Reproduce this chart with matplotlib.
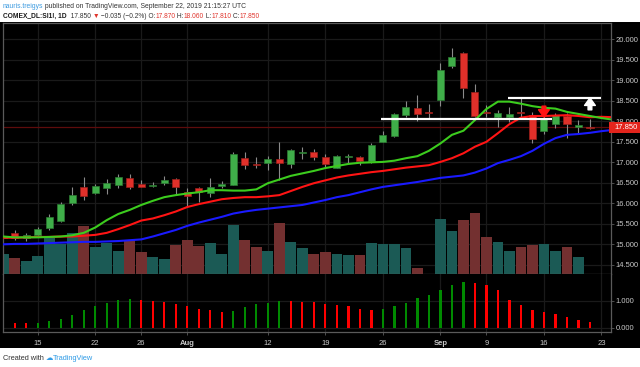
import numpy as np
import pandas as pd
import matplotlib
matplotlib.use("Agg")
import matplotlib.pyplot as plt
import matplotlib.transforms as mtransforms
from matplotlib.patches import Rectangle
from matplotlib.ticker import FormatStrFormatter

plt.rcParams['font.family'] = ['Liberation Sans Narrow', 'Liberation Sans', 'DejaVu Sans']

# ---- values: COMEX silver, daily bars 10 Jul - 20 Sep 2019 ----
opens = [15.15, 15.27, 15.15, 15.23, 15.40, 15.58, 16.01, 16.39, 16.26, 16.37,
         16.44, 16.62, 16.47, 16.42, 16.50, 16.59, 16.28, 16.37, 16.26, 16.42,
         16.45, 17.10, 16.96, 16.98, 17.07, 16.95, 17.22, 17.26, 17.14, 16.87,
         17.14, 17.12, 17.03, 17.50, 17.64, 18.15, 18.32, 18.22, 18.52, 19.36,
         19.66, 18.72, 18.23, 18.10, 18.10, 18.23, 18.15, 17.76, 17.93, 18.13,
         17.87, 17.87]
highs = [15.25, 15.35, 15.27, 15.43, 15.73, 16.04, 16.39, 16.63, 16.46, 16.59,
         16.71, 16.71, 16.57, 16.52, 16.67, 16.62, 16.37, 16.39, 16.61, 16.54,
         17.26, 17.24, 17.14, 17.16, 17.50, 17.32, 17.38, 17.32, 17.20, 17.18,
         17.20, 17.15, 17.48, 17.76, 18.20, 18.49, 18.64, 18.42, 19.43, 19.78,
         19.70, 18.91, 18.40, 18.28, 18.36, 18.56, 18.23, 18.13, 18.20, 18.20,
         18.03, 18.06]
lows = [15.12, 15.10, 15.09, 15.17, 15.35, 15.55, 15.96, 16.08, 16.22, 16.22,
        16.38, 16.36, 16.39, 16.39, 16.44, 16.23, 15.93, 16.04, 16.15, 16.37,
        16.45, 16.83, 16.85, 16.82, 16.57, 16.87, 17.08, 17.06, 16.89, 16.85,
        16.98, 16.93, 16.98, 17.49, 17.62, 18.10, 18.01, 18.05, 18.37, 19.31,
        18.58, 18.10, 18.10, 17.87, 17.99, 18.10, 17.48, 17.69, 17.83, 17.60,
        17.69, 17.81]
closes = [15.21, 15.15, 15.23, 15.37, 15.67, 15.98, 16.20, 16.19, 16.42, 16.49,
          16.63, 16.41, 16.40, 16.44, 16.57, 16.40, 16.18, 16.28, 16.39, 16.47,
          17.20, 16.93, 16.93, 17.08, 16.99, 17.30, 17.24, 17.14, 16.95, 17.16,
          17.16, 17.04, 17.42, 17.67, 18.17, 18.34, 18.18, 18.20, 19.25, 19.56,
          18.82, 18.13, 18.20, 18.20, 18.18, 18.20, 17.58, 18.05, 18.15, 17.93,
          17.91, 17.85]
volume_k = [20, 16, 13, 18, 36, 30, 41, 48, 27, 31,
            23, 34, 22, 17, 15, 29, 34, 28, 31, 20,
            49, 34, 27, 23, 51, 32, 26, 20, 22, 20,
            19, 19, 31, 30, 30, 26, 6, 0, 55, 43,
            54, 61, 37, 32, 23, 27, 29, 30, 23, 27,
            17, 0]

# moving averages (drawn displaced forward, so they run past the last bar)
lips = [15.19, 15.17, 15.17, 15.17, 15.18, 15.19, 15.22, 15.28, 15.41, 15.59,
        15.74, 15.84, 15.96, 16.06, 16.15, 16.20, 16.24, 16.27, 16.32, 16.32,
        16.31, 16.31, 16.34, 16.49, 16.58, 16.67, 16.73, 16.79, 16.86, 16.91,
        16.96, 16.99, 17.00, 17.01, 17.04, 17.10, 17.15, 17.28, 17.46, 17.67,
        17.77, 18.03, 18.30, 18.48, 18.48, 18.43, 18.37, 18.33, 18.31, 18.23,
        18.18, 18.13, 18.08, 18.04]
teeth = [15.16, 15.16, 15.17, 15.18, 15.18, 15.19, 15.19, 15.21, 15.23, 15.28,
         15.37, 15.47, 15.58, 15.63, 15.71, 15.80, 15.91, 15.98, 16.04, 16.10,
         16.13, 16.15, 16.15, 16.17, 16.20, 16.30, 16.40, 16.49, 16.56, 16.63,
         16.68, 16.72, 16.76, 16.79, 16.83, 16.87, 16.90, 16.93, 17.01, 17.10,
         17.22, 17.38, 17.50, 17.71, 17.93, 18.09, 18.13, 18.13, 18.14, 18.15,
         18.13, 18.10, 18.11, 18.10]
jaw = [15.00, 15.01, 15.01, 15.02, 15.03, 15.04, 15.05, 15.06, 15.06, 15.07,
       15.08, 15.10, 15.12, 15.19, 15.27, 15.35, 15.45, 15.53, 15.60, 15.67,
       15.75, 15.80, 15.84, 15.87, 15.90, 15.93, 15.96, 16.02, 16.08, 16.15,
       16.20, 16.27, 16.34, 16.40, 16.44, 16.48, 16.52, 16.57, 16.62, 16.65,
       16.68, 16.75, 16.85, 16.98, 17.06, 17.15, 17.28, 17.45, 17.59, 17.67,
       17.69, 17.72, 17.76, 17.79]

# lower pane oscillator, bars 2..52
osc = [0.18, 0.16, 0.18, 0.25, 0.34, 0.47, 0.64, 0.82, 0.93, 1.04,
       1.05, 1.04, 0.99, 0.96, 0.89, 0.80, 0.71, 0.65, 0.59, 0.61,
       0.75, 0.86, 0.93, 0.99, 0.99, 0.96, 0.95, 0.89, 0.84, 0.80,
       0.71, 0.64, 0.71, 0.80, 0.93, 1.11, 1.23, 1.40, 1.60, 1.68,
       1.67, 1.60, 1.40, 1.04, 0.83, 0.67, 0.57, 0.52, 0.41, 0.27, 0.22]
osc_dir = "RRGGGGGGGGGRRRRRRRRGGGGGRRRRRRRRGGGGGGGGRRRRRRRRRRR"

# drawn levels (start bar, end bar, price) and signal arrows (bar, from, to)
levels = [(32.8, 47.7, 18.06), (43.85, 52.0, 18.58)]
sell_arrow = (47, 18.37, 18.10)
buy_arrow = (51, 18.28, 18.57)

tick_dates = ["2019-07-15", "2019-07-22", "2019-07-26", "2019-08-01", "2019-08-12",
              "2019-08-19", "2019-08-26", "2019-09-03", "2019-09-09", "2019-09-16",
              "2019-09-23"]
tick_labels = ["15", "22", "26", "Aug", "12", "19", "26", "Sep", "9", "16", "23"]
last_price = 17.85

# sessions (no bar on Labor Day)
sessions = pd.bdate_range("2019-07-10", "2019-09-23").drop(pd.Timestamp("2019-09-02"))
tick_pos = [sessions.get_loc(pd.Timestamp(d)) for d in tick_dates]

opens, highs, lows, closes = map(np.array, (opens, highs, lows, closes))
x = np.arange(len(closes))
up = closes >= opens

W, H = 640, 367
fig = plt.figure(figsize=(W / 100, H / 100), dpi=100)
fig.patch.set_facecolor("white")


def px_box(x0, y0, x1, y1):
    return [x0 / W, 1 - y1 / H, (x1 - x0) / W, (y1 - y0) / H]


fig.add_artist(Rectangle((0, 1 - 348 / H), 1, 326 / H, transform=fig.transFigure,
                         facecolor="black", edgecolor="none", zorder=0))

BORDER = "#5a5a5a"
GRID = "#1a1a1a"
LABEL = "#c8c8c8"

ax = fig.add_axes(px_box(3, 23, 611, 274), facecolor="black")
ax2 = fig.add_axes(px_box(3, 274, 611, 332), facecolor="black", sharex=ax)

xlim = (-0.02, 52.83)
ax.set_xlim(*xlim)
ax.set_ylim(14.276, 20.398)
ax2.set_ylim(-0.16, 1.99)

for a in (ax, ax2):
    a.set_axisbelow(True)
    a.grid(True, color=GRID, lw=0.9)
    for s in a.spines.values():
        s.set_color(BORDER)
        s.set_linewidth(0.9)
    a.yaxis.tick_right()
    a.tick_params(axis="y", colors=BORDER, labelcolor=LABEL, labelsize=5.5,
                  length=2, width=0.6, pad=1.5)
    a.set_xticks(tick_pos)
ax2.spines["top"].set_visible(False)
ax.tick_params(axis="x", length=0, labelbottom=False)
ax2.tick_params(axis="x", colors=BORDER, labelcolor=LABEL, labelsize=5.5,
                length=2, width=0.6, pad=4)
ax2.set_xticklabels(tick_labels)
for lbl, txt in zip(ax2.get_xticklabels(), tick_labels):
    if not txt.isdigit():
        lbl.set_fontweight("bold")

ax.set_yticks(np.arange(14.5, 20.01, 0.5))
ax.yaxis.set_major_formatter(FormatStrFormatter("%.3f"))
ax2.set_yticks([0, 1])
ax2.yaxis.set_major_formatter(FormatStrFormatter("%.3f"))

# volume overlay on the bottom of the price pane
vol = np.array(volume_k, dtype=float)
vol_frac = vol / (vol.max() * 4.1)
vol_trans = mtransforms.blended_transform_factory(ax.transData, ax.transAxes)
ax.bar(x, vol_frac, width=0.93, bottom=0, transform=vol_trans,
       color=np.where(up, "#1b5a55", "#733030"), edgecolor="none", zorder=1)

# last price line
ax.axhline(last_price, color="#5e0c0c", lw=0.9, zorder=1.5)

# candles
ax.vlines(x, lows, highs, color="#8a8a8a", lw=0.8, zorder=2)
body = np.where(np.abs(closes - opens) < 0.025, 0.025 * np.sign(closes - opens + 1e-9),
                closes - opens)
ax.bar(x, body, bottom=opens, width=0.62, zorder=3,
       color=np.where(up, "#3fae49", "#e0302a"),
       edgecolor=np.where(up, "#2c7a32", "#9c1f1a"), linewidth=0.5)

# moving averages
ax.plot(np.arange(len(jaw)), jaw, color="#1a1aff", lw=1.5, zorder=4)
ax.plot(np.arange(len(teeth)), teeth, color="#ff1414", lw=1.5, zorder=4)
ax.plot(np.arange(len(lips)), lips, color="#3ccc1e", lw=1.5, zorder=4)

# drawn levels and arrows
for x0, x1, lvl in levels:
    ax.plot([x0, x1], [lvl, lvl], color="white", lw=1.6, zorder=5, solid_capstyle="butt")
arrow_style = "simple,head_width=1.3,head_length=0.9,tail_width=0.45"
ax.annotate("", xy=(sell_arrow[0], sell_arrow[2]), xytext=(sell_arrow[0], sell_arrow[1]),
            arrowprops=dict(arrowstyle=arrow_style, color="#ff1414", shrinkA=0, shrinkB=0,
                            mutation_scale=6), zorder=6)
ax.annotate("", xy=(buy_arrow[0], buy_arrow[2]), xytext=(buy_arrow[0], buy_arrow[1]),
            arrowprops=dict(arrowstyle=arrow_style, color="white", shrinkA=0, shrinkB=0,
                            mutation_scale=6), zorder=6)

# price tag on the axis
tag_trans = mtransforms.blended_transform_factory(ax.transAxes, ax.transData)
ax.add_patch(Rectangle((0.9965, last_price - 0.14), 0.06, 0.28, transform=tag_trans,
                       facecolor="#e3241c", edgecolor="none", clip_on=False, zorder=10))
ax.text(1.006, last_price, f"{last_price:.3f}", transform=tag_trans, color="white",
        fontsize=5.5, va="center", ha="left", clip_on=False, zorder=11)

# oscillator pane
ax2.bar(x[1:], osc, width=0.2, color=["#008a00" if c == "G" else "#ff0000" for c in osc_dir],
        zorder=2)

# header and footer text
over = fig.add_axes([0, 0, 1, 1], facecolor="none")
over.axis("off")


def chain(parts, x0, y0, size):
    prev = None
    for text, color, weight in parts:
        if prev is None:
            prev = over.text(x0, y0, text, color=color, fontsize=size, fontweight=weight,
                             ha="left", va="bottom", transform=fig.transFigure)
        else:
            prev = over.annotate(text, xy=(1, 0), xycoords=prev, color=color,
                                 fontsize=size, fontweight=weight, ha="left", va="bottom")


RED = "#e0352d"
DARK = "#333333"
chain([("nauris.treigys", "#3d9be0", "normal"),
       (" published on TradingView.com, September 22, 2019 21:15:27 UTC", DARK, "normal")],
      3 / W, 1 - 10 / H, 4.9)
chain([("COMEX_DL:SI1!, 1D", "#1a1a1a", "bold"),
       ("  17.850 ", DARK, "normal"),
       ("▼", RED, "normal"),
       (" \u22120.035 (\u22120.2%) O:", DARK, "normal"),
       ("17.870", RED, "normal"),
       (" H:", DARK, "normal"),
       ("18.060", RED, "normal"),
       (" L:", DARK, "normal"),
       ("17.810", RED, "normal"),
       (" C:", DARK, "normal"),
       ("17.850", RED, "normal")],
      3 / W, 1 - 20 / H, 4.8)
chain([("Created with ", DARK, "normal"),
       ("\u2601", "#2f9be6", "normal"),
       ("TradingView", "#2f9be6", "normal")],
      3 / W, 1 - 362 / H, 5.3)

fig.savefig("out.png", dpi=100, facecolor=fig.get_facecolor())
